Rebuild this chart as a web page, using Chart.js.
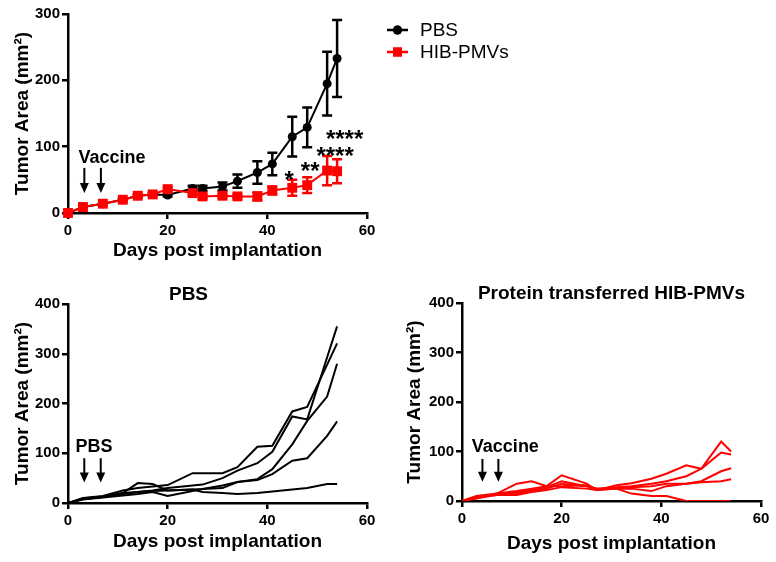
<!DOCTYPE html>
<html>
<head>
<meta charset="utf-8">
<script src="https://cdn.jsdelivr.net/npm/chart.js@4.4.1/dist/chart.umd.min.js"></script>
<style>
    html, body { margin: 0; padding: 0; background: #fff; overflow: hidden; }
    body { width: 776px; height: 562px; position: relative; }
    .box { position: absolute; }
</style>
</head>
<body>
<div class="box" style="left:0;top:0;width:776px;height:265px"><canvas id="meanChart"></canvas></div>
<div class="box" style="left:10px;top:280px;width:384px;height:282px"><canvas id="pbsChart"></canvas></div>
<div class="box" style="left:390px;top:280px;width:386px;height:282px"><canvas id="hibChart"></canvas></div>
<script>
// === DATA ===
const days = [0, 3, 7, 11, 14, 17, 20, 25, 27, 31, 34, 38, 41, 45, 48, 52, 54];

// Mittelwerte + Fehler (oberes Panel)
const pbsMean = [0, 9, 14, 20, 26, 28, 27, 37, 37, 40, 48, 61, 74, 115, 129, 195, 233];
const pbsErr  = [0, 1, 1, 2, 2, 2, 2, 4, 4, 6, 10, 17, 17, 30, 30, 48, 58];
const hibMean = [0, 9, 14, 20, 26, 28, 36, 30, 25, 26, 25, 25, 34, 38, 42, 64, 63];
const hibErr  = [0, 1, 1, 2, 2, 2, 3, 3, 3, 3, 3, 6, 6, 12, 12, 22, 18];

// Einzeltiere PBS
const pbsMouse1 = [0, 10, 14, 25, 30, 33, 36, 60, 60, 60, 72, 113, 115, 184, 193, 278, 321];
const pbsMouse2 = [0, 9, 13, 20, 22, 25, 30, 35, 37, 50, 65, 80, 103, 174, 168, 293, 355];
const pbsMouse3 = [0, 8, 12, 18, 22, 24, 25, 27, 28, 35, 42, 48, 68, 118, 165, 214, 280];
const pbsMouse4 = [0, 7, 11, 15, 18, 22, 14, 24, 28, 30, 42, 46, 58, 85, 90, 135, 164];
const pbsMouse5 = [0, 8, 12, 20, 40, 38, 25, 27, 22, 20, 18, 20, 23, 27, 30, 38, 38];

// Einzeltiere HIB-PMVs
const hibMouse1 = [0, 10, 12, 15, 20, 25, 35, 30, 25, 28, 30, 35, 40, 50, 65, 120, 100];
const hibMouse2 = [0, 5, 15, 35, 40, 30, 52, 35, 22, 32, 36, 45, 55, 72, 65, 98, 94];
const hibMouse3 = [0, 8, 14, 18, 22, 28, 40, 30, 22, 25, 25, 20, 30, 35, 40, 60, 66];
const hibMouse4 = [0, 6, 12, 12, 18, 22, 28, 25, 22, 25, 28, 30, 35, 35, 38, 40, 44];
const hibMouse5 = [0, 10, 15, 20, 25, 30, 30, 32, 25, 25, 15, 10, 10, 0, 0, 0, 0];

// === STYLE ===
const FONT = '"Liberation Sans", Arial, Helvetica, sans-serif';
const BLACK = '#000000';
const RED = '#ff0000';

Chart.defaults.font.family = FONT;
Chart.defaults.color = BLACK;

const toPoints = (values) => days.map((d, i) => ({ x: d, y: values[i] }));

// === PLUGINS ===
// Fehlerbalken je Datensatz
const errorBarPlugin = {
    id: 'errorBars',
    afterDatasetDraw(chart, args) {
        const ds = chart.data.datasets[args.index];
        if (!ds.errorValues) return;
        const { ctx, scales: { x, y } } = chart;
        ctx.save();
        ctx.strokeStyle = ds.borderColor;
        ctx.lineWidth = 2.5;
        ds.data.forEach((p, i) => {
            const err = ds.errorValues[i];
            if (!err) return;
            const px = x.getPixelForValue(p.x);
            const top = y.getPixelForValue(p.y + err);
            const bottom = y.getPixelForValue(p.y - err);
            ctx.beginPath();
            ctx.moveTo(px, top); ctx.lineTo(px, bottom);
            ctx.moveTo(px - 5, top); ctx.lineTo(px + 5, top);
            ctx.moveTo(px - 5, bottom); ctx.lineTo(px + 5, bottom);
            ctx.stroke();
        });
        ctx.restore();
    }
};

// Texte + Pfeile in Datenkoordinaten
const notesPlugin = {
    id: 'notes',
    afterDraw(chart, args, opts) {
        const { ctx, scales: { x, y } } = chart;
        ctx.save();
        ctx.fillStyle = BLACK;
        ctx.strokeStyle = BLACK;
        ctx.textAlign = 'center';
        ctx.textBaseline = 'alphabetic';
        (opts.texts || []).forEach(t => {
            ctx.font = `bold ${t.size || 18}px ${FONT}`;
            ctx.fillText(t.text, x.getPixelForValue(t.x), y.getPixelForValue(t.y));
        });
        (opts.arrows || []).forEach(a => {
            const px = x.getPixelForValue(a.x);
            const y0 = y.getPixelForValue(a.from);
            const y1 = y.getPixelForValue(a.to);
            ctx.lineWidth = 2;
            ctx.beginPath();
            ctx.moveTo(px, y0);
            ctx.lineTo(px, y1 - 8);
            ctx.stroke();
            ctx.beginPath();
            ctx.moveTo(px - 4.5, y1 - 10);
            ctx.lineTo(px + 4.5, y1 - 10);
            ctx.lineTo(px, y1);
            ctx.closePath();
            ctx.fill();
        });
        ctx.restore();
    }
};

// Legende rechts neben dem oberen Diagramm
const sideLegendPlugin = {
    id: 'sideLegend',
    afterDraw(chart) {
        const { ctx } = chart;
        ctx.save();
        chart.data.datasets.forEach((ds, i) => {
            const cy = 30 + i * 22;
            ctx.strokeStyle = ds.borderColor;
            ctx.fillStyle = ds.borderColor;
            ctx.lineWidth = 2.5;
            ctx.beginPath();
            ctx.moveTo(387, cy);
            ctx.lineTo(408, cy);
            ctx.stroke();
            Chart.helpers.drawPoint(ctx, {
                pointStyle: ds.pointStyle,
                radius: ds.pointStyle === 'rect' ? 6.4 : 4.5,
                rotation: 0,
                borderWidth: 0
            }, 397.5, cy);
            ctx.fill();
            ctx.fillStyle = BLACK;
            ctx.font = `19px ${FONT}`;
            ctx.textAlign = 'left';
            ctx.textBaseline = 'middle';
            ctx.fillText(ds.label, 420, cy + 1);
        });
        ctx.restore();
    }
};

// === ACHSEN ===
function buildScales(cfg) {
    const axisTitle = (text, padding) => ({
        display: true, text, color: BLACK, padding,
        font: { size: 19, weight: 'bold' }
    });
    const grid = { drawOnChartArea: false, tickLength: 6, lineWidth: 2.5, color: BLACK };
    const border = { width: 2.5, color: BLACK };
    const tickFont = { size: 15, weight: 'bold' };
    return {
        x: {
            type: 'linear', min: 0, max: 60,
            ticks: { stepSize: 20, font: tickFont, padding: 3, color: BLACK },
            grid, border,
            title: axisTitle('Days post implantation', { top: 0, bottom: cfg.xTitlePad }),
            afterFit: (axis) => { axis.height = cfg.xHeight; }
        },
        y: {
            type: 'linear', min: 0, max: cfg.yMax,
            ticks: { stepSize: 100, font: tickFont, padding: 2, color: BLACK },
            grid, border,
            title: axisTitle('Tumor Area (mm²)', { top: cfg.yTitlePad, bottom: 0 }),
            afterFit: (axis) => { axis.width = cfg.yWidth; }
        }
    };
}

function baseOptions(scales, padding) {
    return {
        responsive: true,
        maintainAspectRatio: false,
        animation: false,
        events: [],
        layout: { padding },
        elements: { line: { tension: 0 } },
        scales,
        plugins: { legend: { display: false }, tooltip: { enabled: false } }
    };
}

function mouseLines(series, color) {
    return series.map(values => ({
        data: toPoints(values),
        borderColor: color,
        borderWidth: 2,
        pointRadius: 0,
        fill: false
    }));
}

// === OBERES PANEL: Mittelwerte ===
const meanOptions = baseOptions(
    buildScales({ yMax: 300, xHeight: 52, xTitlePad: 3, yWidth: 68, yTitlePad: 11 }),
    { top: 14, right: 409, left: 0, bottom: 0 }
);
meanOptions.plugins.notes = {
    texts: [
        { text: 'Vaccine', x: 8.85, y: 75 },
        { text: '*', x: 44.4, y: 37, size: 24 },
        { text: '**', x: 48.6, y: 52, size: 24 },
        { text: '****', x: 53.6, y: 74, size: 24 },
        { text: '****', x: 55.5, y: 100, size: 24 }
    ],
    arrows: [
        { x: 3.28, from: 68, to: 30 },
        { x: 6.6, from: 68, to: 30 }
    ]
};

new Chart(document.getElementById('meanChart'), {
    type: 'line',
    data: {
        datasets: [
            {
                label: 'PBS', data: toPoints(pbsMean), errorValues: pbsErr,
                borderColor: BLACK, backgroundColor: BLACK, borderWidth: 2,
                pointStyle: 'circle', pointRadius: 4.5, pointBorderWidth: 0,
                pointBackgroundColor: BLACK, clip: false, order: 2
            },
            {
                label: 'HIB-PMVs', data: toPoints(hibMean), errorValues: hibErr,
                borderColor: RED, backgroundColor: RED, borderWidth: 2,
                pointStyle: 'rect', pointRadius: 7, pointBorderWidth: 0,
                pointBackgroundColor: RED, clip: false, order: 1
            }
        ]
    },
    options: meanOptions,
    plugins: [errorBarPlugin, notesPlugin, sideLegendPlugin]
});

// === UNTEN LINKS: PBS Einzeltiere ===
const pbsOptions = baseOptions(
    buildScales({ yMax: 400, xHeight: 59, xTitlePad: 9, yWidth: 58, yTitlePad: 1 }),
    { top: 0, right: 27, left: 0, bottom: 0 }
);
pbsOptions.plugins.title = {
    display: true, text: 'PBS', color: BLACK,
    font: { size: 19, weight: 'bold', lineHeight: 1 },
    padding: { top: 5, bottom: 0 }
};
pbsOptions.plugins.notes = {
    texts: [{ text: 'PBS', x: 5.2, y: 103 }],
    arrows: [
        { x: 3.27, from: 90, to: 41 },
        { x: 6.57, from: 90, to: 41 }
    ]
};

new Chart(document.getElementById('pbsChart'), {
    type: 'line',
    data: { datasets: mouseLines([pbsMouse1, pbsMouse2, pbsMouse3, pbsMouse4, pbsMouse5], BLACK) },
    options: pbsOptions,
    plugins: [notesPlugin]
});

// === UNTEN RECHTS: HIB-PMVs Einzeltiere ===
const hibOptions = baseOptions(
    buildScales({ yMax: 400, xHeight: 61, xTitlePad: 7, yWidth: 72, yTitlePad: 13 }),
    { top: 0, right: 15, left: 0, bottom: 0 }
);
hibOptions.plugins.title = {
    display: true, text: 'Protein transferred HIB-PMVs', color: BLACK, fullSize: false,
    font: { size: 19, weight: 'bold', lineHeight: 1 },
    padding: { top: 4, bottom: 0 }
};
hibOptions.plugins.notes = {
    texts: [{ text: 'Vaccine', x: 8.7, y: 100 }],
    arrows: [
        { x: 4.1, from: 85, to: 39 },
        { x: 7.3, from: 85, to: 39 }
    ]
};

new Chart(document.getElementById('hibChart'), {
    type: 'line',
    data: { datasets: mouseLines([hibMouse1, hibMouse2, hibMouse3, hibMouse4, hibMouse5], RED) },
    options: hibOptions,
    plugins: [notesPlugin]
});
</script>
</body>
</html>
